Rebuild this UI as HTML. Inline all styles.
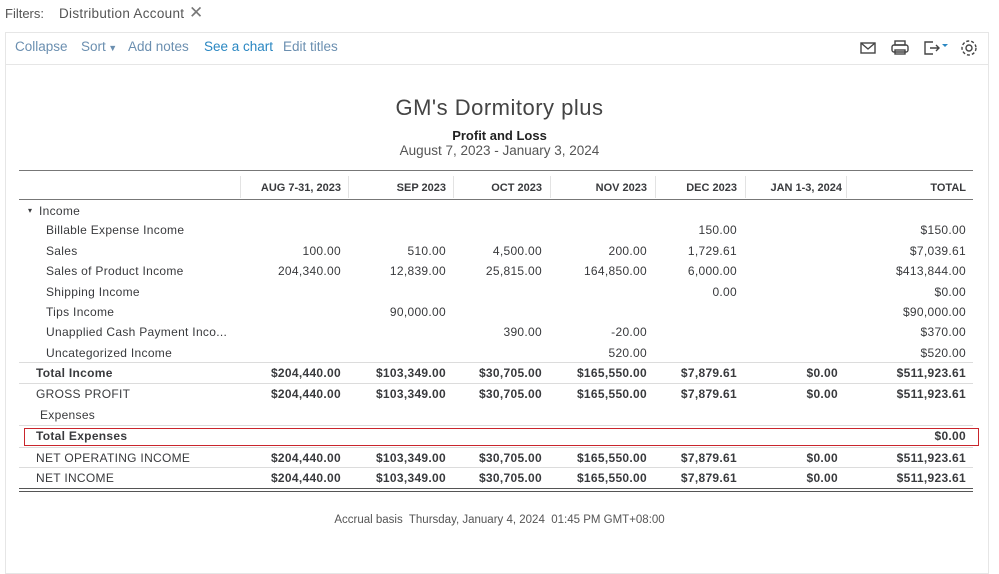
<!DOCTYPE html>
<html><head><meta charset="utf-8"><style>
body{margin:0;width:999px;height:562px;background:#fff;position:relative;overflow:hidden;font-family:"Liberation Sans",sans-serif;color:#393a3d;}
.a{position:absolute;white-space:nowrap}
.row{position:absolute;left:0;width:999px;height:14px;line-height:14px;font-size:12px;letter-spacing:0.3px}
.row span{position:absolute}
.c1{right:658px}.c2{right:553px}.c3{right:457px}.c4{right:352px}.c5{right:262px}.c6{right:161px}.c7{right:33px}
.b{font-weight:bold}
.hl{position:absolute;left:19px;width:954px;height:1px;background:#dcdcdc}
.vl{position:absolute;top:176px;height:22px;width:1px;background:#e3e3e3}
.hd{position:absolute;top:181px;font-size:11px;font-weight:bold;line-height:14px;color:#393a3d}
.tb{position:absolute;top:39px;font-size:13.5px;color:#6b8fb0;white-space:nowrap}
</style></head><body>
<div class="a" style="left:5px;top:6px;font-size:13px;color:#555">Filters:</div>
<div class="a" style="left:59px;top:6px;font-size:13.5px;color:#555;letter-spacing:0.3px">Distribution Account</div>
<div class="a" style="left:189px;top:3px;font-size:17px;color:#777">✕</div>
<div class="a" style="left:5px;top:32px;width:982px;height:540px;border:1px solid #e6e6e6"></div>
<div class="a" style="left:6px;top:64px;width:982px;height:1px;background:#e6e6e6"></div>
<div class="tb" style="left:15px">Collapse</div>
<div class="tb" style="left:81px">Sort<span style="font-size:9px"> ▼</span></div>
<div class="tb" style="left:128px">Add notes</div>
<div class="tb" style="left:204px;color:#2a87c2">See a chart</div>
<div class="tb" style="left:283px">Edit titles</div>
<svg class="a" style="left:858px;top:38px" width="124" height="20" viewBox="0 0 124 20" fill="none" stroke="#444" stroke-width="1.4">
<rect x="3" y="5" width="14" height="10"/><path d="M3 5l7 6 7-6"/>
<rect x="37" y="3" width="10" height="4"/><rect x="34" y="7" width="16" height="7" rx="2"/><rect x="37" y="12" width="10" height="4"/>
<path d="M75 4h-8v12h8M72 10h9M78 7l3 3-3 3"/><path d="M84 6h6l-3 3z" fill="#2a87c2" stroke="none"/>
<circle cx="111" cy="10" r="3"/><circle cx="111" cy="10" r="7" stroke-dasharray="3 2"/>
</svg>
<div class="a" style="left:0;width:999px;text-align:center;top:95px;font-size:22px;color:#444;letter-spacing:0.5px">GM's Dormitory plus</div>
<div class="a" style="left:0;width:999px;text-align:center;top:128px;font-size:13px;font-weight:bold;color:#222">Profit and Loss</div>
<div class="a" style="left:0;width:999px;text-align:center;top:143px;font-size:13.5px;color:#555">August 7, 2023 - January 3, 2024</div>
<div class="a" style="left:19px;top:170px;width:954px;height:1px;background:#777"></div>
<div class="a" style="left:19px;top:199px;width:954px;height:1px;background:#777"></div>
<div class="vl" style="left:240px"></div><div class="vl" style="left:348px"></div><div class="vl" style="left:453px"></div><div class="vl" style="left:550px"></div><div class="vl" style="left:655px"></div><div class="vl" style="left:745px"></div><div class="vl" style="left:846px"></div>
<div class="hd" style="right:658px">AUG 7-31, 2023</div><div class="hd" style="right:553px">SEP 2023</div><div class="hd" style="right:457px">OCT 2023</div><div class="hd" style="right:352px">NOV 2023</div><div class="hd" style="right:262px">DEC 2023</div><div class="hd" style="right:157px">JAN 1-3, 2024</div><div class="hd" style="right:33px">TOTAL</div>

<div class="row" style="top:204px"><span style="left:28px;font-size:8px">▾</span><span style="left:39px">Income</span></div>
<div class="row" style="top:223px"><span style="left:46px">Billable Expense Income</span><span class="c5">150.00</span><span class="c7">$150.00</span></div>
<div class="row" style="top:244px"><span style="left:46px">Sales</span><span class="c1">100.00</span><span class="c2">510.00</span><span class="c3">4,500.00</span><span class="c4">200.00</span><span class="c5">1,729.61</span><span class="c7">$7,039.61</span></div>
<div class="row" style="top:264px"><span style="left:46px">Sales of Product Income</span><span class="c1">204,340.00</span><span class="c2">12,839.00</span><span class="c3">25,815.00</span><span class="c4">164,850.00</span><span class="c5">6,000.00</span><span class="c7">$413,844.00</span></div>
<div class="row" style="top:285px"><span style="left:46px">Shipping Income</span><span class="c5">0.00</span><span class="c7">$0.00</span></div>
<div class="row" style="top:305px"><span style="left:46px">Tips Income</span><span class="c2">90,000.00</span><span class="c7">$90,000.00</span></div>
<div class="row" style="top:325px"><span style="left:46px">Unapplied Cash Payment Inco...</span><span class="c3">390.00</span><span class="c4">-20.00</span><span class="c7">$370.00</span></div>
<div class="row" style="top:346px"><span style="left:46px">Uncategorized Income</span><span class="c4">520.00</span><span class="c7">$520.00</span></div>
<div class="hl" style="top:362px"></div>
<div class="row b" style="top:366px"><span style="left:36px">Total Income</span><span class="c1">$204,440.00</span><span class="c2">$103,349.00</span><span class="c3">$30,705.00</span><span class="c4">$165,550.00</span><span class="c5">$7,879.61</span><span class="c6">$0.00</span><span class="c7">$511,923.61</span></div>
<div class="hl" style="top:383px"></div>
<div class="row" style="top:387px"><span style="left:36px">GROSS PROFIT</span><span class="c1 b">$204,440.00</span><span class="c2 b">$103,349.00</span><span class="c3 b">$30,705.00</span><span class="c4 b">$165,550.00</span><span class="c5 b">$7,879.61</span><span class="c6 b">$0.00</span><span class="c7 b">$511,923.61</span></div>
<div class="row" style="top:408px"><span style="left:40px">Expenses</span></div>
<div class="hl" style="top:425px"></div>
<div class="a" style="left:24px;top:428px;width:953px;height:16px;border:1.5px solid #c9252c"></div>
<div class="row b" style="top:429px"><span style="left:36px">Total Expenses</span><span class="c7">$0.00</span></div>
<div class="hl" style="top:447px"></div>
<div class="row" style="top:451px"><span style="left:36px">NET OPERATING INCOME</span><span class="c1 b">$204,440.00</span><span class="c2 b">$103,349.00</span><span class="c3 b">$30,705.00</span><span class="c4 b">$165,550.00</span><span class="c5 b">$7,879.61</span><span class="c6 b">$0.00</span><span class="c7 b">$511,923.61</span></div>
<div class="hl" style="top:467px"></div>
<div class="row" style="top:471px"><span style="left:36px">NET INCOME</span><span class="c1 b">$204,440.00</span><span class="c2 b">$103,349.00</span><span class="c3 b">$30,705.00</span><span class="c4 b">$165,550.00</span><span class="c5 b">$7,879.61</span><span class="c6 b">$0.00</span><span class="c7 b">$511,923.61</span></div>
<div class="a" style="left:19px;top:488px;width:954px;height:1px;background:#555"></div>
<div class="a" style="left:19px;top:491px;width:954px;height:1px;background:#555"></div>
<div class="a" style="left:0;width:999px;text-align:center;top:514px;font-size:11.5px;color:#555">Accrual basis&nbsp; Thursday, January 4, 2024&nbsp;&nbsp;01:45 PM GMT+08:00</div>
</body></html>
